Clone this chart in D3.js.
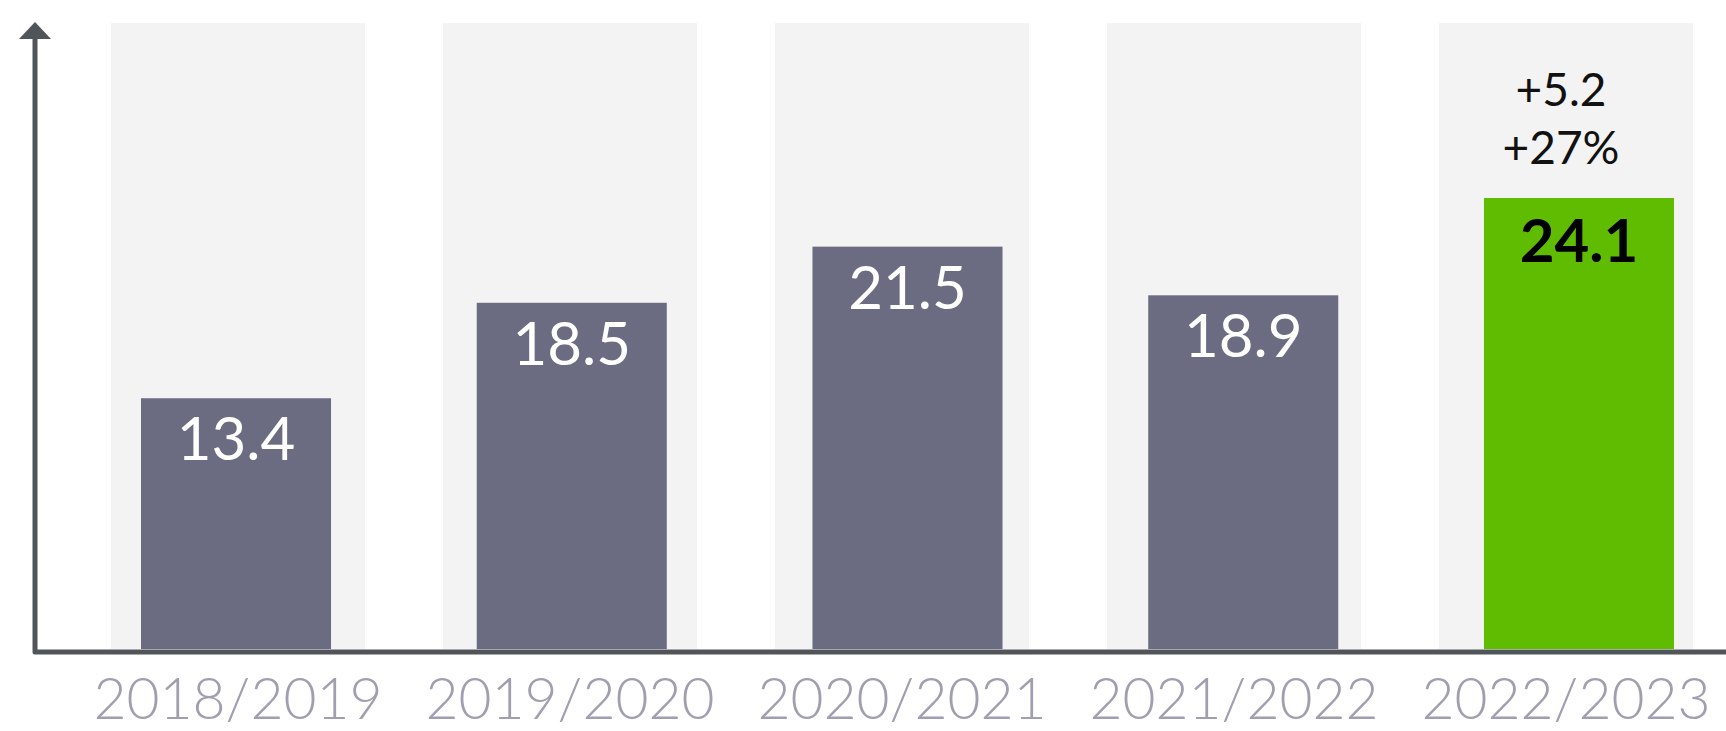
<!DOCTYPE html>
<html>
<head>
<meta charset="utf-8">
<script src="https://cdn.jsdelivr.net/npm/d3@7"></script>
<style>
  html, body { margin: 0; padding: 0; background: #fff; }
  svg { display: block; font-family: Lato, "Open Sans", sans-serif; }
</style>
</head>
<body>
<div id="chart"></div>
<script>
// chart data
var years = ["2018/2019", "2019/2020", "2020/2021", "2021/2022", "2022/2023"];
var values = [13.4, 18.5, 21.5, 18.9, 24.1];
var changeLabels = ["+5.2", "+27%"];

var width = 1726, height = 731;
var baseY = 649, topY = 23, axisX = 35;

var svg = d3.select("#chart").append("svg")
    .attr("width", width)
    .attr("height", height);

// background columns
var xBand = d3.scaleBand()
    .domain(years)
    .range([72, 1732])
    .paddingInner(0.235)
    .paddingOuter(0.1175);

// bars sit a bit differently than the columns
var xBar = d3.scaleBand()
    .domain(years)
    .range([141, 1674])
    .paddingInner(0.434)
    .paddingOuter(0);

var y = d3.scaleLinear()
    .domain([0, 24.1])
    .range([baseY, 198]);

var last = years[years.length - 1];

svg.append("g")
    .selectAll("rect")
    .data(years)
    .join("rect")
    .attr("x", d => xBand(d))
    .attr("y", topY)
    .attr("width", xBand.bandwidth())
    .attr("height", baseY - topY)
    .attr("fill", "#f2f3f2");

var bars = svg.append("g")
    .selectAll("g")
    .data(years.map((d, i) => ({ year: d, value: values[i] })))
    .join("g");

bars.append("rect")
    .attr("x", d => xBar(d.year))
    .attr("y", d => y(d.value))
    .attr("width", xBar.bandwidth())
    .attr("height", d => baseY - y(d.value))
    .attr("fill", d => d.year === last ? "#60bc00" : "#6b6b82");

bars.append("text")
    .attr("x", d => xBar(d.year) + xBar.bandwidth() / 2)
    .attr("y", d => y(d.value) + (d.year === last ? 64 : 62))
    .attr("text-anchor", "middle")
    .style("font-size", "60px")
    .style("font-weight", d => d.year === last ? 700 : 400)
    .attr("fill", d => d.year === last ? "#000" : "#fff")
    .text(d => d.value.toFixed(1));

// change annotation above the last bar
svg.append("g")
    .selectAll("text")
    .data(changeLabels)
    .join("text")
    .attr("x", xBand(last) + xBand.bandwidth() / 2 - 5)
    .attr("y", (d, i) => y(values[values.length - 1]) - 92 + i * 58)
    .attr("text-anchor", "middle")
    .style("font-size", "46px")
    .style("font-weight", 400)
    .attr("fill", "#111")
    .text(d => d);

// year labels
svg.append("g")
    .selectAll("text")
    .data(years)
    .join("text")
    .attr("x", d => xBand(d) + xBand.bandwidth() / 2)
    .attr("y", 719)
    .attr("text-anchor", "middle")
    .style("font-size", "57px")
    .style("font-weight", 300)
    .attr("fill", "#a09fb1")
    .text(d => d);

// axes
svg.append("path")
    .attr("d", d3.line()([[axisX, 38], [axisX, 652], [width, 652]]))
    .attr("fill", "none")
    .attr("stroke", "#50555a")
    .attr("stroke-width", 5)
    .attr("stroke-linejoin", "round");

svg.append("path")
    .attr("d", d3.line()([[axisX, 22], [axisX - 16, 39], [axisX + 16, 39]]) + "Z")
    .attr("fill", "#50555a");
</script>
</body>
</html>
